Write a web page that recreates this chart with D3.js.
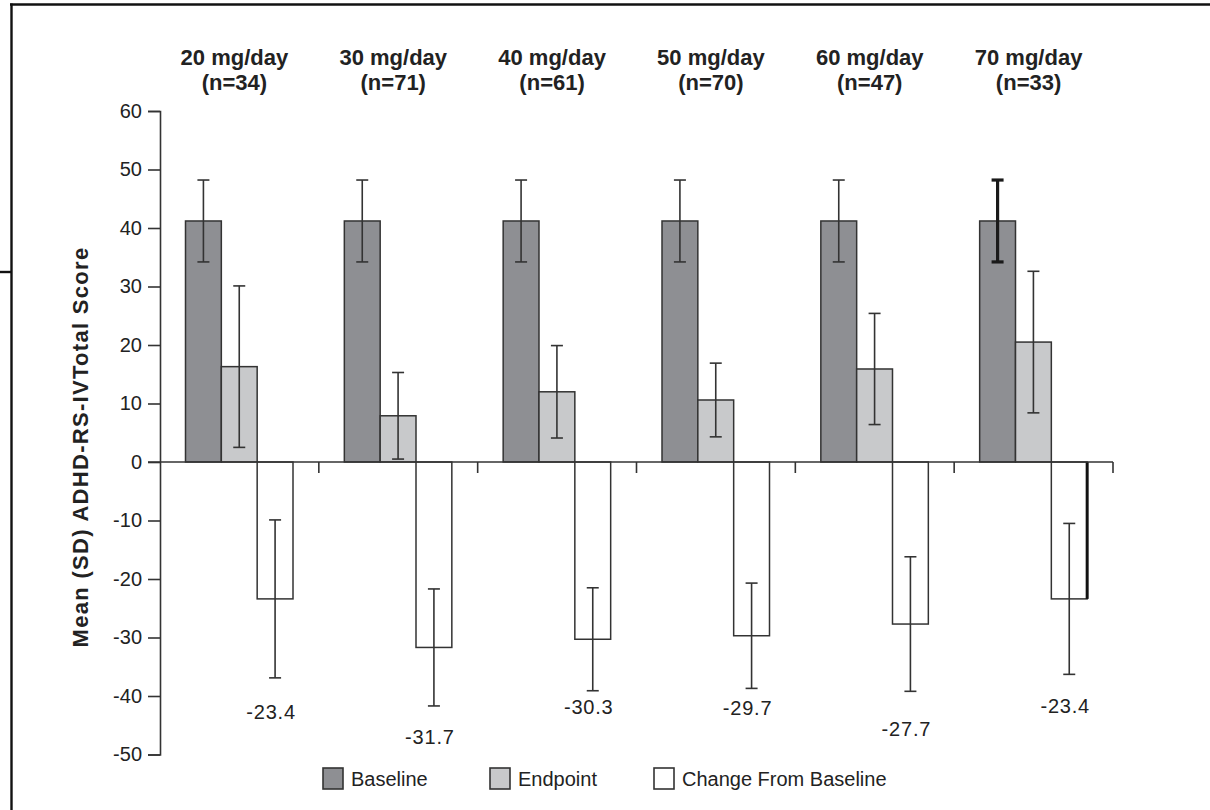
<!DOCTYPE html>
<html>
<head>
<meta charset="utf-8">
<script src="https://cdn.jsdelivr.net/npm/d3@7"></script>
<style>
  html, body { margin: 0; padding: 0; background: #fff; }
  svg { display: block; }
  text { font-family: "Liberation Sans", Arial, Helvetica, sans-serif; fill: #222; }
</style>
</head>
<body>
<svg id="chart" width="1210" height="810"></svg>
<script>
// Dose groups and sample sizes
const doses = ["20 mg/day", "30 mg/day", "40 mg/day", "50 mg/day", "60 mg/day", "70 mg/day"];
const groupN = [34, 71, 61, 70, 47, 33];

// Series means and standard deviations (ADHD-RS-IV total score)
const seriesNames = ["Baseline", "Endpoint", "Change From Baseline"];
const baselineMean = [41.2, 41.2, 41.2, 41.2, 41.2, 41.2];
const baselineSD   = [7.0, 7.0, 7.0, 7.0, 7.0, 7.0];
const endpointMean = [16.3, 7.9, 12.0, 10.6, 15.9, 20.5];
const endpointSD   = [13.8, 7.4, 7.9, 6.3, 9.5, 12.1];
const changeMean   = [-23.4, -31.7, -30.3, -29.7, -27.7, -23.4];
const changeSD     = [13.5, 10.0, 8.8, 9.0, 11.5, 12.9];

// Y axis ticks
const yTicks = [-50, -40, -30, -20, -10, 0, 10, 20, 30, 40, 50, 60];

// ---- layout ----
const svg = d3.select("#chart");
const fills = ["#8e8f93", "#c8c9cb", "#ffffff"];
const ink = "#333";
const labelGap = [34, 31, 16, 20, 38, 32];   // vertical gap below each change whisker
const hyphen = s => String(s).replace("\u2212", "-");

const y = d3.scaleLinear().domain([-50, 60]).range([754.5, 111]);
const xGroup = d3.scaleBand().domain(doses).range([160, 1113]);
const xSeries = d3.scaleBand().domain(seriesNames).range([25.5, 133]);

const rows = doses.map((d, i) => ({
  dose: d, n: groupN[i], idx: i,
  bars: [
    { s: seriesNames[0], m: baselineMean[i], sd: baselineSD[i] },
    { s: seriesNames[1], m: endpointMean[i], sd: endpointSD[i] },
    { s: seriesNames[2], m: changeMean[i], sd: changeSD[i] }
  ]
}));

// Page frame lines
svg.append("line").attr("x1", 10).attr("x2", 1210).attr("y1", 4.5).attr("y2", 4.5)
  .attr("stroke", "#111").attr("stroke-width", 2.6);
svg.append("line").attr("x1", 11.5).attr("x2", 11.5).attr("y1", 3.5).attr("y2", 810)
  .attr("stroke", "#111").attr("stroke-width", 2.4);
svg.append("line").attr("x1", 0).attr("x2", 11.5).attr("y1", 272).attr("y2", 272)
  .attr("stroke", "#111").attr("stroke-width", 2.4);

// Y axis
const yAxis = d3.axisLeft(y).tickValues(yTicks).tickSize(12).tickPadding(6)
  .tickFormat(d => hyphen(d3.format("d")(d)));
const gy = svg.append("g").attr("transform", "translate(160,0)").call(yAxis);
gy.select(".domain").attr("stroke", ink).attr("stroke-width", 1.6);
gy.selectAll(".tick line").attr("stroke", ink).attr("stroke-width", 1.6);
gy.selectAll(".tick text").style("font-size", "20px").attr("fill", "#2a2a2a");

// Y axis title
svg.append("text")
  .attr("transform", "translate(88,447) rotate(-90)")
  .attr("text-anchor", "middle")
  .style("font-size", "22px").style("font-weight", "bold")
  .style("letter-spacing", "1.3px")
  .text("Mean (SD)  ADHD-RS-IVTotal Score");

// Groups
const g = svg.selectAll("g.group").data(rows).join("g")
  .attr("class", "group")
  .attr("transform", d => `translate(${xGroup(d.dose)},0)`);

// Bars
g.selectAll("rect.bar").data(d => d.bars).join("rect")
  .attr("class", "bar")
  .attr("x", b => xSeries(b.s))
  .attr("width", xSeries.bandwidth())
  .attr("y", b => y(Math.max(0, b.m)))
  .attr("height", b => Math.abs(y(b.m) - y(0)))
  .attr("fill", (b, i) => fills[i])
  .attr("stroke", ink).attr("stroke-width", 1.5);

// Error bars
const cap = 6;
g.each(function (d) {
  const sel = d3.select(this);
  d.bars.forEach((b, i) => {
    const cx = xSeries(b.s) + xSeries.bandwidth() / 2;
    const heavy = d.idx === 5 && i === 0;
    const w = heavy ? 3.2 : 1.6;
    const col = heavy ? "#1a1a1a" : ink;
    sel.append("line").attr("x1", cx).attr("x2", cx)
      .attr("y1", y(b.m + b.sd)).attr("y2", y(b.m - b.sd))
      .attr("stroke", col).attr("stroke-width", w);
    [b.m + b.sd, b.m - b.sd].forEach(v => {
      sel.append("line").attr("x1", cx - cap).attr("x2", cx + cap)
        .attr("y1", y(v)).attr("y2", y(v))
        .attr("stroke", col).attr("stroke-width", w);
    });
  });
  // darker right edge on the last change bar
  if (d.idx === 5) {
    const b = d.bars[2];
    const xr = xSeries(b.s) + xSeries.bandwidth();
    sel.append("line").attr("x1", xr).attr("x2", xr)
      .attr("y1", y(0)).attr("y2", y(b.m))
      .attr("stroke", "#111").attr("stroke-width", 3);
  }
});

// Zero line with group separators
const x1 = xGroup.range()[1];
svg.append("line").attr("x1", 148).attr("x2", x1).attr("y1", y(0)).attr("y2", y(0))
  .attr("stroke", ink).attr("stroke-width", 1.6);
const seps = doses.map(d => xGroup(d) + xGroup.bandwidth());
svg.selectAll("line.sep").data(seps).join("line")
  .attr("class", "sep")
  .attr("x1", d => d).attr("x2", d => d)
  .attr("y1", y(0)).attr("y2", y(0) + 11)
  .attr("stroke", ink).attr("stroke-width", 1.6);

// Change value labels
const fmt = d3.format(".1f");
g.append("text")
  .attr("x", d => xSeries(seriesNames[2]) + xSeries.bandwidth() / 2 - 4)
  .attr("y", d => y(d.bars[2].m - d.bars[2].sd) + labelGap[d.idx] + 7)
  .attr("text-anchor", "middle")
  .style("font-size", "20px").style("letter-spacing", "0.8px")
  .text(d => hyphen(fmt(d.bars[2].m)));

// Group headers
g.append("text")
  .attr("x", xGroup.bandwidth() / 2 - 5).attr("y", 65)
  .attr("text-anchor", "middle")
  .style("font-size", "22px").style("font-weight", "bold")
  .text(d => d.dose);
g.append("text")
  .attr("x", xGroup.bandwidth() / 2 - 5).attr("y", 90)
  .attr("text-anchor", "middle")
  .style("font-size", "22px").style("font-weight", "bold")
  .text(d => `(n=${d.n})`);

// Legend
const legendX = [323, 490, 654];
const lg = svg.selectAll("g.legend").data(seriesNames).join("g")
  .attr("class", "legend")
  .attr("transform", (d, i) => `translate(${legendX[i]},768)`);
lg.append("rect").attr("width", 20).attr("height", 21)
  .attr("fill", (d, i) => fills[i]).attr("stroke", ink).attr("stroke-width", 1.6);
lg.append("text").attr("x", 28).attr("y", 18)
  .style("font-size", "20px")
  .text(d => d);
</script>
</body>
</html>
